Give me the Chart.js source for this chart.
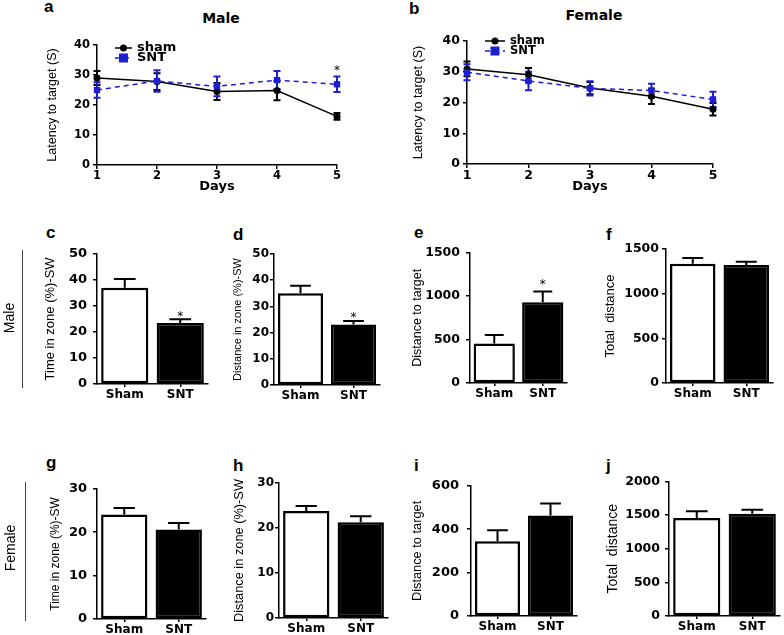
<!DOCTYPE html>
<html>
<head>
<meta charset="utf-8">
<script src="https://cdn.jsdelivr.net/npm/chart.js@4.4.1/dist/chart.umd.min.js"></script>
<style>
  body { margin: 0; background: #fff; width: 784px; height: 635px; position: relative; overflow: hidden; }
  canvas { position: absolute; }
  .lbl { position: absolute; font-family: "Liberation Sans", Arial, sans-serif; font-weight: bold; font-size: 17px; line-height: 17px; color: #000; }
  .ttl { position: absolute; font-family: "DejaVu Sans", sans-serif; font-weight: bold; font-size: 14px; line-height: 14px; color: #000; transform: translateX(-50%); }
</style>
</head>
<body>
<div class="lbl" style="left:44px;top:-2px">a</div>
<div class="lbl" style="left:409px;top:0px">b</div>
<div class="lbl" style="left:46px;top:224px">c</div>
<div class="lbl" style="left:233px;top:226px">d</div>
<div class="lbl" style="left:414px;top:224px">e</div>
<div class="lbl" style="left:606px;top:226px">f</div>
<div class="lbl" style="left:46px;top:454px">g</div>
<div class="lbl" style="left:233px;top:457px">h</div>
<div class="lbl" style="left:414px;top:457px">i</div>
<div class="lbl" style="left:606px;top:457px">j</div>
<div class="ttl" style="left:221px;top:11px">Male</div>
<div class="ttl" style="left:594px;top:8px">Female</div>
<canvas id="side" width="30" height="400" style="left:0;top:235px"></canvas>
<script>
// dni
const days = [1, 2, 3, 4, 5];
const groups = ['Sham', 'SNT'];

// latency, samci
const maleSham = [29.0, 27.8, 24.5, 24.8, 16.2];
const maleShamErr = [2.3, 2.8, 2.8, 3.2, 1.1];
const maleSnt = [25.0, 28.0, 26.2, 28.3, 26.9];
const maleSntErr = [2.6, 3.6, 3.3, 3.0, 2.6];
const maleSntMarks = ['', '', '', '', '*'];

// latency, samice
const femaleSham = [30.9, 29.0, 24.7, 22.0, 17.8];
const femaleShamErr = [2.4, 2.2, 2.0, 2.5, 2.0];
const femaleSnt = [29.8, 27.0, 24.6, 23.9, 21.0];
const femaleSntErr = [2.6, 3.0, 2.3, 2.2, 2.5];

// sloupce c-j
const cVals = [37.0, 23.4], cErr = [3.3, 1.5], cMarks = ['', '*'];
const dVals = [35.0, 23.1], dErr = [2.9, 1.3], dMarks = ['', '*'];
const eVals = [455, 928], eErr = [98, 125], eMarks = ['', '*'];
const fVals = [1335, 1320], fErr = [64, 38];
const gVals = [24.1, 20.6], gErr = [1.5, 1.5];
const hVals = [23.8, 21.3], hErr = [1.1, 1.3];
const iVals = [344, 463], iErr = [51, 55];
const jVals = [1457, 1521], jErr = [99, 59];

const BLUE = '#1f1fd2';

// popisky radku (Male / Female) se svislou carou
(function drawSide() {
  const ctx = document.getElementById('side').getContext('2d');
  const oy = 235;
  ctx.strokeStyle = '#444';
  ctx.lineWidth = 1;
  ctx.beginPath();
  ctx.moveTo(22.5, 250 - oy); ctx.lineTo(22.5, 388 - oy);
  ctx.moveTo(25.5, 482 - oy); ctx.lineTo(25.5, 621 - oy);
  ctx.stroke();
  ctx.fillStyle = '#000';
  ctx.font = '14px "Liberation Sans"';
  ctx.textAlign = 'center';
  ctx.textBaseline = 'middle';
  [['Male', 10, 318], ['Female', 11, 548]].forEach(([t, x, y]) => {
    ctx.save();
    ctx.translate(x, y - oy);
    ctx.rotate(-Math.PI / 2);
    ctx.fillText(t, 0, 0);
    ctx.restore();
  });
})();

// chybove usecky + hvezdicky
const errorBars = {
  id: 'errorBars',
  beforeDatasetsDraw(chart, args, opts) {
    const ctx = chart.ctx;
    const ys = chart.scales.y;
    chart.data.datasets.forEach((ds, di) => {
      if (!ds.errors) return;
      const meta = chart.getDatasetMeta(di);
      meta.data.forEach((el, i) => {
        const raw = ds.data[i];
        const val = typeof raw === 'object' ? raw.y : raw;
        const e = ds.errors[i];
        const x = el.x;
        const yTop = ys.getPixelForValue(val + e);
        const yBot = opts.both ? ys.getPixelForValue(val - e) : el.y;
        const cap = opts.both ? opts.cap : el.width * 0.23;
        ctx.save();
        ctx.strokeStyle = ds.errorColor || '#000';
        ctx.lineWidth = opts.lineWidth || 2;
        ctx.beginPath();
        ctx.moveTo(x, yBot); ctx.lineTo(x, yTop);
        ctx.moveTo(x - cap, yTop); ctx.lineTo(x + cap, yTop);
        if (opts.both) { ctx.moveTo(x - cap, yBot); ctx.lineTo(x + cap, yBot); }
        ctx.stroke();
        if (ds.marks && ds.marks[i]) {
          ctx.fillStyle = '#000';
          ctx.font = '12px "DejaVu Sans"';
          ctx.textAlign = 'center';
          ctx.textBaseline = 'alphabetic';
          ctx.fillText(ds.marks[i], x, yTop - opts.markGap + 7);
        }
        ctx.restore();
      });
    });
  }
};

// legenda uvnitr grafu
const innerLegend = {
  id: 'innerLegend',
  afterDraw(chart, args, opts) {
    if (!opts.show) return;
    const {ctx, chartArea} = chart;
    ctx.save();
    chart.data.datasets.forEach((ds, i) => {
      const y = chartArea.top + opts.dy + i * opts.gap;
      const x0 = chartArea.left + opts.dx;
      ctx.strokeStyle = ds.borderColor;
      ctx.lineWidth = 1.5;
      ctx.setLineDash(ds.borderDash || []);
      ctx.beginPath(); ctx.moveTo(x0, y); ctx.lineTo(x0 + opts.len, y); ctx.stroke();
      ctx.setLineDash([]);
      ctx.fillStyle = ds.backgroundColor;
      const mx = x0 + opts.len / 2;
      if (ds.pointStyle === 'rect') {
        ctx.fillRect(mx - ds.pointRadius, y - ds.pointRadius, ds.pointRadius * 2, ds.pointRadius * 2);
      } else {
        ctx.beginPath(); ctx.arc(mx, y, ds.pointRadius, 0, Math.PI * 2); ctx.fill();
      }
      ctx.fillStyle = '#000';
      ctx.font = 'bold ' + opts.size + 'px "DejaVu Sans"';
      ctx.textBaseline = 'middle';
      ctx.textAlign = 'left';
      ctx.fillText(ds.label, x0 + opts.len + 5, y);
    });
    ctx.restore();
  }
};

function placeCanvas(g) {
  const left = Math.round(g.titleX - g.titleSize * 0.6);
  const top = g.top - 12;
  const c = document.createElement('canvas');
  const w = g.right + g.padR - left;
  const h = g.bottom + g.xh - top;
  c.width = w; c.height = h;
  c.style.left = left + 'px';
  c.style.top = top + 'px';
  c.style.width = w + 'px';
  c.style.height = h + 'px';
  document.body.appendChild(c);
  return { ctx: c.getContext('2d'), yw: g.axisX - left };
}

function yScale(g, yw, max, step, text) {
  return {
    min: 0, max: max,
    ticks: {
      stepSize: step, color: '#000', padding: g.gap - 4, callback: v => String(v),
      font: { family: 'DejaVu Sans', weight: 'bold', size: g.tickSize }
    },
    grid: { display: true, drawOnChartArea: false, drawTicks: true, tickLength: 4, color: '#000', lineWidth: 1.5 },
    border: { display: true, color: '#000', width: 1.5 },
    title: { display: true, text: text, color: '#000', padding: 0, font: { family: 'Liberation Sans', size: g.titleSize } },
    afterFit: s => { s.width = yw; }
  };
}

function lineChart(g, sham, shamErr, snt, sntErr, sntMarks, legend) {
  const { ctx, yw } = placeCanvas(g);
  new Chart(ctx, {
    type: 'line',
    data: {
      datasets: [
        {
          label: 'sham', data: days.map((d, i) => ({ x: d, y: sham[i] })), errors: shamErr,
          borderColor: '#000', backgroundColor: '#000', borderWidth: 1.5, pointStyle: 'circle',
          pointRadius: 3.5, pointBorderWidth: 0, errorColor: '#000', clip: false, order: 1
        },
        {
          label: 'SNT', data: days.map((d, i) => ({ x: d, y: snt[i] })), errors: sntErr, marks: sntMarks,
          borderColor: BLUE, backgroundColor: BLUE, borderWidth: 1.5, borderDash: [5, 4], pointStyle: 'rect',
          pointRadius: 4.5, pointBorderWidth: 0, errorColor: BLUE, clip: false, order: 0
        }
      ]
    },
    options: {
      responsive: false, animation: false, devicePixelRatio: 1,
      layout: { padding: { top: 12, right: g.padR, left: 0, bottom: 0 } },
      scales: {
        x: {
          type: 'linear', min: 1, max: 5,
          ticks: { stepSize: 1, color: '#000', padding: 0, font: { family: 'DejaVu Sans', weight: 'bold', size: g.tickSize } },
          grid: { display: true, drawOnChartArea: false, drawTicks: true, tickLength: 4, color: '#000', lineWidth: 1.5 },
          border: { display: true, color: '#000', width: 1.5 },
          title: { display: true, text: 'Days', color: '#000', padding: 0, font: { family: 'DejaVu Sans', weight: 'bold', size: 13 } },
          afterFit: s => { s.height = g.xh; }
        },
        y: yScale(g, yw, 40, 10, 'Latency to target (S)')
      },
      plugins: {
        legend: { display: false }, tooltip: { enabled: false },
        errorBars: { both: true, cap: 3.5, lineWidth: 2, markGap: 10 },
        innerLegend: legend
      }
    },
    plugins: [errorBars, innerLegend]
  });
}

function barChart(g, vals, errs, marks, max, step, text) {
  const { ctx, yw } = placeCanvas(g);
  new Chart(ctx, {
    type: 'bar',
    data: {
      labels: groups,
      datasets: [{
        data: vals, errors: errs, marks: marks,
        backgroundColor: ['#fff', '#000'], borderColor: '#000', borderWidth: 2.5, borderSkipped: false,
        barPercentage: 0.85, categoryPercentage: 1
      }]
    },
    options: {
      responsive: false, animation: false, devicePixelRatio: 1,
      layout: { padding: { top: 12, right: g.padR, left: 0, bottom: 0 } },
      scales: {
        x: {
          ticks: { color: '#000', padding: 1, font: { family: 'DejaVu Sans', weight: 'bold', size: 12 } },
          grid: { display: true, offset: false, drawOnChartArea: false, drawTicks: true, tickLength: 3, color: '#000', lineWidth: 1.5 },
          border: { display: true, color: '#000', width: 1.5 },
          afterFit: s => { s.height = g.xh; }
        },
        y: yScale(g, yw, max, step, text)
      },
      plugins: {
        legend: { display: false }, tooltip: { enabled: false },
        errorBars: { both: false, lineWidth: 2, markGap: g.markGap || 6 }
      }
    },
    plugins: [errorBars]
  });
}

lineChart({ axisX: 97, top: 45, right: 337, bottom: 165, titleX: 52, titleSize: 12.5, tickSize: 11.5, gap: 7, xh: 29, padR: 15 },
  maleSham, maleShamErr, maleSnt, maleSntErr, maleSntMarks,
  { show: true, dx: 18, dy: 3, gap: 10, len: 17, size: 13 });
lineChart({ axisX: 467, top: 41, right: 713, bottom: 164, titleX: 418, titleSize: 12.5, tickSize: 12.5, gap: 7, xh: 30, padR: 15 },
  femaleSham, femaleShamErr, femaleSnt, femaleSntErr, null,
  { show: true, dx: 18, dy: 0, gap: 10, len: 20, size: 11.5 });

barChart({ axisX: 97, top: 252, right: 208, bottom: 384, titleX: 51, titleSize: 13, tickSize: 13, gap: 10, xh: 26, padR: 6, markGap: 6 },
  cVals, cErr, cMarks, 50, 10, 'Time in zone (%)-SW');
barChart({ axisX: 274, top: 254, right: 380, bottom: 385, titleX: 238, titleSize: 11, tickSize: 12, gap: 5, xh: 26, padR: 4, markGap: 7 },
  dVals, dErr, dMarks, 50, 10, 'Distance in zone (%)-SW');
barChart({ axisX: 470, top: 251, right: 567, bottom: 383, titleX: 417, titleSize: 12.5, tickSize: 12.5, gap: 10, xh: 26, padR: 6, markGap: 10 },
  eVals, eErr, eMarks, 1500, 500, 'Distance to target');
barChart({ axisX: 666, top: 249, right: 773, bottom: 383, titleX: 611, titleSize: 13, tickSize: 12.5, gap: 7, xh: 26, padR: 6 },
  fVals, fErr, null, 1500, 500, 'Total  distance');
barChart({ axisX: 97, top: 487, right: 206, bottom: 619, titleX: 55, titleSize: 12, tickSize: 13, gap: 10, xh: 16, padR: 6 },
  gVals, gErr, null, 30, 10, 'Time in zone (%)-SW');
barChart({ axisX: 279, top: 483, right: 388, bottom: 618, titleX: 240, titleSize: 12.8, tickSize: 12, gap: 5, xh: 17, padR: 4 },
  hVals, hErr, null, 30, 10, 'Distance in zone (%)-SW');
barChart({ axisX: 471, top: 482, right: 577, bottom: 616, titleX: 418, titleSize: 12.8, tickSize: 13, gap: 12, xh: 19, padR: 6 },
  iVals, iErr, null, 600, 200, 'Distance to target');
barChart({ axisX: 669, top: 481, right: 780, bottom: 616, titleX: 613, titleSize: 14, tickSize: 12.5, gap: 9, xh: 19, padR: 4 },
  jVals, jErr, null, 2000, 500, 'Total  distance');
</script>
</body>
</html>
